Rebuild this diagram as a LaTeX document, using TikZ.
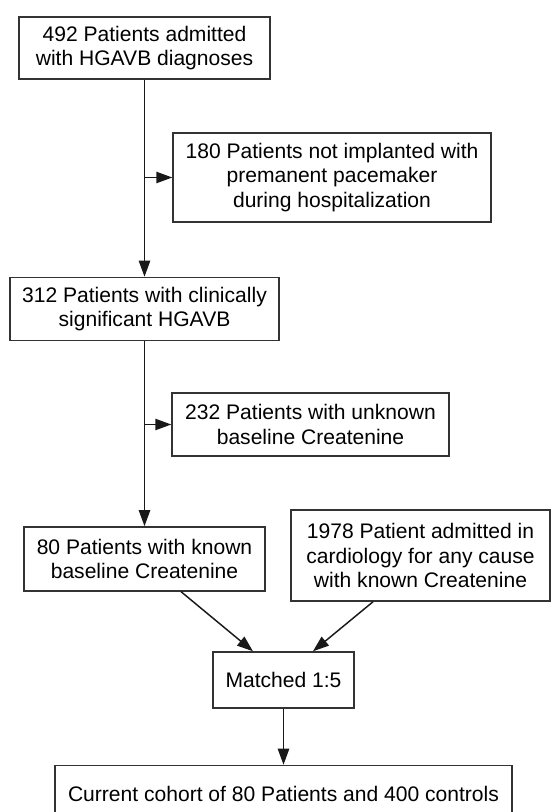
\documentclass[tikz,border=0pt]{standalone}
\usepackage{fontspec}
\setmainfont{Liberation Sans}
\usetikzlibrary{positioning,arrows.meta}

\begin{document}
\begin{tikzpicture}[
  x=0.75pt, y=-0.75pt,
  font=\fontsize{15.8}{18.6}\selectfont,
  box/.style={
    rectangle, draw=black!80, line width=1.1pt,
    align=center, inner sep=2pt, fill=white
  },
  arr/.style={-{Triangle[length=12pt,width=8.5pt]}, line width=1.1pt, draw=black!90}
]
\useasboundingbox (0,0) rectangle (551,812);

% main column
\node[box, minimum width=188.25pt, minimum height=46.5pt] (admitted) at (144.5,48)
  {492 Patients admitted\\with HGAVB diagnoses};
\node[box, minimum width=201.75pt, minimum height=47.25pt, below=147.75pt of admitted] (significant)
  {312 Patients with clinically\\significant HGAVB};
\node[box, minimum width=180.75pt, minimum height=48pt, below=138.75pt of significant] (known)
  {80 Patients with known\\baseline Createnine};

% excluded
\node[box, minimum width=238.5pt, minimum height=66.75pt] (notimpl) at (332,177.5)
  {180 Patients not implanted with\\premanent pacemaker\\during hospitalization};
\node[box, minimum width=207.75pt, minimum height=47.25pt] (unknown) at (310.5,424.5)
  {232 Patients with unknown\\baseline Createnine};

% controls and matching
\node[box, minimum width=194.25pt, minimum height=68.25pt] (cardio) at (420.5,555.5)
  {1978 Patient admitted in\\cardiology for any cause\\with known Createnine};
\node[box, minimum width=105.75pt, minimum height=42pt] (matched) at (283.5,680) {Matched 1:5};
\node[box, minimum width=342.75pt, minimum height=42pt, below=42pt of matched] (cohort)
  {Current cohort of 80 Patients and 400 controls};

\draw[arr] (admitted) -- (significant);
\draw[arr] (admitted.south |- notimpl.west) -- (notimpl.west);
\draw[arr] (significant) -- (known);
\draw[arr] (significant.south |- unknown.west) -- (unknown.west);
\draw[arr] ([xshift=27.4pt]known.south) -- ([xshift=-22.9pt]matched.north);
\draw[arr] ([xshift=-35.6pt]cardio.south) -- ([xshift=22.1pt]matched.north);
\draw[arr] (matched) -- (cohort);

\end{tikzpicture}
\end{document}
